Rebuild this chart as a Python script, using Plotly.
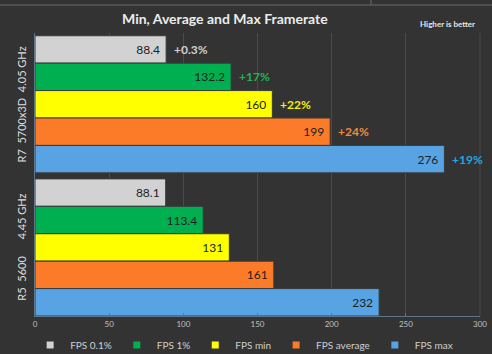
import plotly.graph_objects as go

cpus = ["R7  5700x3D  4.05 GHz", "R5  5600      4.45 GHz"]
series = ["FPS 0.1%", "FPS 1%", "FPS min", "FPS average", "FPS max"]
values = {
    "FPS 0.1%": [88.4, 88.1],
    "FPS 1%": [132.2, 113.4],
    "FPS min": [160, 131],
    "FPS average": [199, 161],
    "FPS max": [276, 232],
}
gains = ["+0.3%", "+17%", "+22%", "+24%", "+19%"]
x_ticks = [0, 50, 100, 150, 200, 250, 300]

bar_colors = ["#d2d2d2", "#00b050", "#ffff00", "#fb7b28", "#58a3e4"]
gain_colors = ["#cfcfcf", "#22b354", "#f2ee10", "#f08a3c", "#22a8e6"]

FONT = "Lato"
BG = "#333333"
GROUP_STEP = 5.22

fig = go.Figure()
for s, name in enumerate(series):
    ys = [g * GROUP_STEP + s for g in range(len(cpus))]
    fig.add_trace(go.Bar(
        x=values[name], y=ys, orientation="h", name=name,
        width=1.0, showlegend=False, legendgroup=name,
        marker=dict(color=bar_colors[s], line=dict(color="#3a3a3a", width=1)),
        text=[str(v) + "\u00a0" for v in values[name]],
        textposition="inside", insidetextanchor="end",
        textfont=dict(color="#1e1e1e", size=12, family=FONT),
        constraintext="none",
        hoverinfo="x+name",
    ))
# legend entries with small square swatches
for s, name in enumerate(series):
    fig.add_trace(go.Scatter(
        x=[None], y=[None], mode="markers", name=name, legendgroup=name,
        marker=dict(symbol="square", size=7, color=bar_colors[s]),
        showlegend=True,
    ))

# percentage gains for first CPU
for s, name in enumerate(series):
    fig.add_annotation(
        x=values[name][0], y=s, xref="x", yref="y",
        text="<b>%s</b>" % gains[s], showarrow=False,
        xanchor="left", xshift=6,
        font=dict(color=gain_colors[s], size=12, family=FONT),
    )

# group labels (rotated)
for g, cpu in enumerate(cpus):
    fig.add_annotation(
        x=-0.031, xref="paper", y=g * GROUP_STEP + 2, yref="y",
        text=cpu.replace(" ", "&nbsp;"), textangle=-90, showarrow=False,
        font=dict(color="#dedede", size=11, family=FONT),
        xanchor="center", yanchor="middle",
    )

fig.add_annotation(
    x=(225 - 35) / 445, xref="paper", y=(316 - 18) / 283, yref="paper",
    text="<b>Min, Average and Max Framerate</b>", showarrow=False,
    font=dict(color="#ececec", size=14, family=FONT), xanchor="center", yanchor="middle",
)
fig.add_annotation(
    x=(477 - 35) / 445, xref="paper", y=(316 - 24) / 283, yref="paper",
    text="<b>Higher is better</b>", showarrow=False,
    font=dict(color="#e6e6e6", size=8, family=FONT), xanchor="right", yanchor="middle",
)

# screen decoration at top
fig.add_shape(type="line", xref="paper", yref="paper", x0=-0.08, x1=1.03,
              y0=(316 - 5) / 283, y1=(316 - 5) / 283, line=dict(color="#6a6a6a", width=1))
fig.add_shape(type="line", xref="paper", yref="paper", x0=(371 - 35) / 445, x1=(371 - 35) / 445,
              y0=(316 - 5) / 283, y1=316 / 283, line=dict(color="#6a6a6a", width=1))
fig.add_shape(type="line", xref="paper", yref="paper", x0=1, x1=1, y0=0, y1=1,
              line=dict(color="#4b4b4b", width=1))

fig.update_layout(
    width=492, height=354,
    margin=dict(l=35, r=12, t=33, b=38, autoexpand=False),
    paper_bgcolor=BG, plot_bgcolor=BG,
    barmode="overlay",
    showlegend=True,
    legend=dict(orientation="h", x=0.47, xanchor="center", y=(316 - 345) / 283, yanchor="middle",
                font=dict(color="#cfcfcf", size=10, family=FONT),
                bgcolor="rgba(0,0,0,0)", traceorder="normal"),
    xaxis=dict(range=[0, 300], tickvals=x_ticks, showgrid=True, gridcolor="#4b4b4b", gridwidth=1,
               zeroline=False, showline=True, linecolor="#5f7488", linewidth=1,
               ticks="inside", ticklen=3, tickcolor="#5f7488",
               tickfont=dict(color="#c0c0c0", size=8, family=FONT), fixedrange=True),
    yaxis=dict(range=[GROUP_STEP + 4.5, -0.6], showticklabels=False, showgrid=False,
               zeroline=False, showline=True, linecolor="#5f7488", linewidth=1, fixedrange=True),
    font=dict(family=FONT),
)

fig.write_html("out.html")
